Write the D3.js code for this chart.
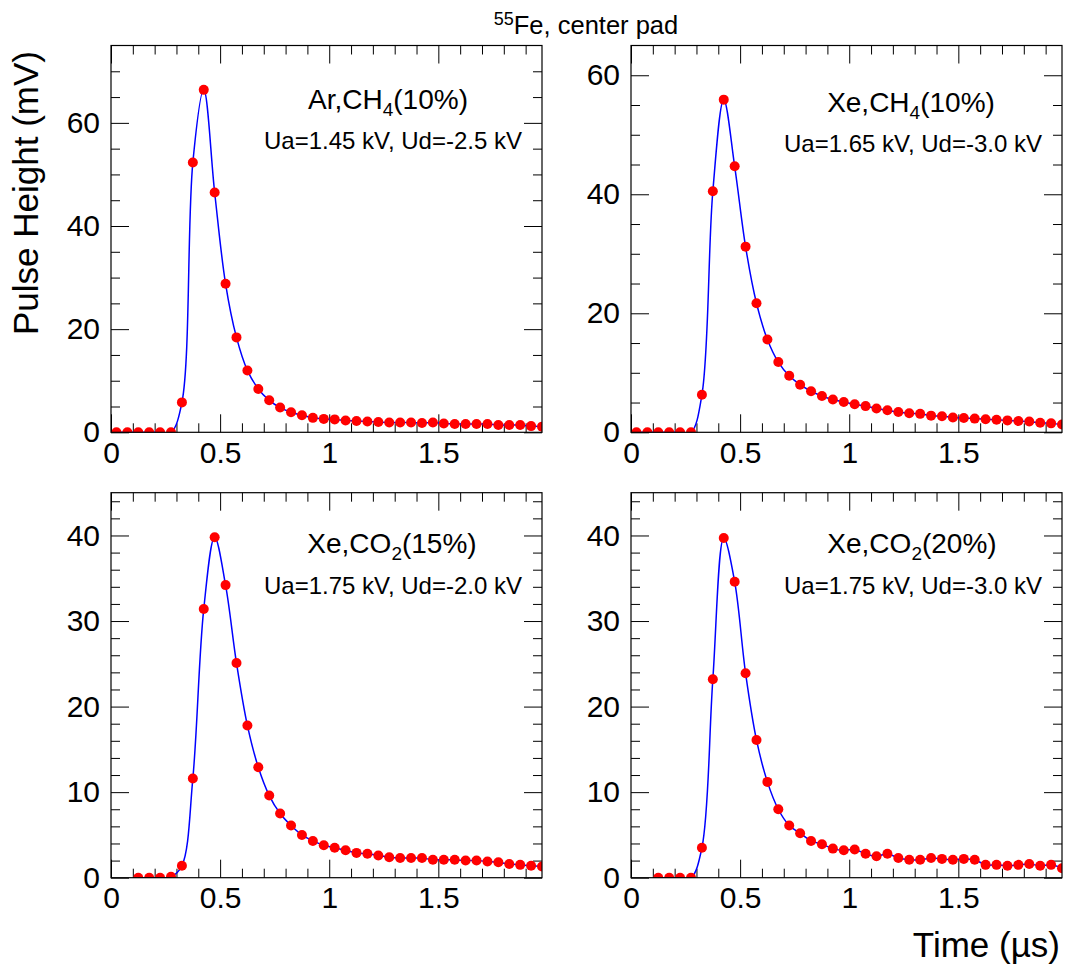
<!DOCTYPE html>
<html>
<head>
<meta charset="utf-8">
<script src="https://cdn.jsdelivr.net/npm/d3@7"></script>
<style>
  html, body { margin: 0; padding: 0; background: #fff; }
  svg { display: block; }
  text { font-family: "Liberation Sans", Arial, Helvetica, sans-serif; fill: #000; }
</style>
</head>
<body>
<svg id="chart" width="1066" height="966"></svg>
<script>
// ---------------- DATA ----------------
const times = [0.025, 0.075, 0.125, 0.175, 0.225, 0.275, 0.325, 0.375, 0.425, 0.475,
               0.525, 0.575, 0.625, 0.675, 0.725, 0.775, 0.825, 0.875, 0.925, 0.975,
               1.025, 1.075, 1.125, 1.175, 1.225, 1.275, 1.325, 1.375, 1.425, 1.475,
               1.525, 1.575, 1.625, 1.675, 1.725, 1.775, 1.825, 1.875, 1.925, 1.975];
// times for the two lower panels (start at 0.125)
const timesLower = times.slice(2);

const arCH4_10 = [0, 0, 0, 0, 0, 0, 5.8, 52.3, 66.4, 46.5, 28.8, 18.4, 12.0, 8.4, 6.2, 4.8,
                  3.9, 3.3, 2.8, 2.6, 2.5, 2.3, 2.2, 2.1, 2.0, 1.9, 1.9, 1.9, 1.8, 1.9, 1.7,
                  1.6, 1.6, 1.6, 1.6, 1.4, 1.4, 1.4, 1.2, 1.1];
const xeCH4_10 = [0, 0, 0, 0, 0, 0, 6.3, 40.5, 55.9, 44.7, 31.2, 21.7, 15.6, 11.8, 9.5, 8.0,
                  6.9, 6.1, 5.5, 5.1, 4.7, 4.4, 4.0, 3.7, 3.4, 3.2, 3.1, 2.8, 2.7, 2.5, 2.4,
                  2.3, 2.2, 2.1, 2.0, 1.9, 1.8, 1.6, 1.5, 1.3];
const xeCO2_15 = [0, 0, 0, 0.1, 1.4, 11.6, 31.4, 39.8, 34.2, 25.1, 17.8, 12.9, 9.6, 7.5, 6.1,
                  5.0, 4.3, 3.8, 3.5, 3.2, 2.9, 2.8, 2.6, 2.4, 2.3, 2.3, 2.3, 2.1, 2.1, 2.1,
                  2.0, 2.0, 1.9, 1.8, 1.6, 1.5, 1.4, 1.3];
const xeCO2_20 = [0, 0, 0, 0, 3.5, 23.2, 39.7, 34.6, 23.9, 16.1, 11.2, 8.0, 6.1, 5.2, 4.3,
                  3.9, 3.4, 3.2, 3.3, 2.8, 2.5, 2.8, 2.3, 2.1, 2.1, 2.3, 2.2, 2.1, 2.2, 2.1,
                  1.5, 1.5, 1.4, 1.5, 1.6, 1.4, 1.5, 1.1];

const xDomain = [0, 1.975];
const xMajorTicks = [0, 0.5, 1, 1.5];
const xMinorTicks = [0.1, 0.2, 0.3, 0.4, 0.6, 0.7, 0.8, 0.9, 1.1, 1.2, 1.3, 1.4, 1.6, 1.7, 1.8, 1.9];

const yMax = [75, 65, 45, 45];
const yMajorTicks = [[0, 20, 40, 60], [0, 20, 40, 60], [0, 10, 20, 30, 40], [0, 10, 20, 30, 40]];
const yMinorTicks = [
  [5, 10, 15, 25, 30, 35, 45, 50, 55, 65, 70],
  [5, 10, 15, 25, 30, 35, 45, 50, 55],
  [2, 4, 6, 8, 12, 14, 16, 18, 22, 24, 26, 28, 32, 34, 36, 38, 42, 44],
  [2, 4, 6, 8, 12, 14, 16, 18, 22, 24, 26, 28, 32, 34, 36, 38, 42, 44]
];

const gasLabels = [
  ["Ar,CH", "4", "(10%)"],
  ["Xe,CH", "4", "(10%)"],
  ["Xe,CO", "2", "(15%)"],
  ["Xe,CO", "2", "(20%)"]
];
const voltLabels = [
  "Ua=1.45 kV, Ud=-2.5 kV",
  "Ua=1.65 kV, Ud=-3.0 kV",
  "Ua=1.75 kV, Ud=-2.0 kV",
  "Ua=1.75 kV, Ud=-3.0 kV"
];
const seriesX = [times, times, timesLower, timesLower];
const seriesY = [arCH4_10, xeCH4_10, xeCO2_15, xeCO2_20];

// ---------------- LAYOUT ----------------
const frames = [
  {x0: 111, x1: 542, y0: 45.5, y1: 432.3, gx: 388, gy: 109, vx: 393, vy: 149},
  {x0: 631, x1: 1062, y0: 45.5, y1: 432.3, gx: 911, gy: 112, vx: 913, vy: 152},
  {x0: 111, x1: 542, y0: 492.7, y1: 877.7, gx: 392, gy: 553, vx: 393, vy: 594},
  {x0: 631, x1: 1062, y0: 492.7, y1: 877.7, gx: 912, gy: 553, vx: 913, vy: 594}
];

const svg = d3.select("#chart");
const MAJ = 18, MIN = 9;
const FONT = '"Liberation Sans", Arial, Helvetica, sans-serif';

frames.forEach((f, i) => {
  const x = d3.scaleLinear().domain(xDomain).range([f.x0, f.x1]);
  const y = d3.scaleLinear().domain([0, yMax[i]]).range([f.y1, f.y0]);

  const g = svg.append("g");

  const clipId = "clip" + i;
  svg.append("defs").append("clipPath").attr("id", clipId)
    .append("rect").attr("x", f.x0).attr("y", f.y0)
    .attr("width", f.x1 - f.x0).attr("height", f.y1 - f.y0);

  const styleAxis = sel => {
    sel.select(".domain").remove();
    sel.selectAll("line").attr("stroke", "#000").attr("stroke-width", 1);
  };
  // bottom
  g.append("g").attr("transform", `translate(0,${f.y1})`)
    .call(d3.axisBottom(x).tickValues(xMinorTicks).tickSize(-MIN).tickFormat(""))
    .call(styleAxis);
  g.append("g").attr("transform", `translate(0,${f.y1})`)
    .call(d3.axisBottom(x).tickValues(xMajorTicks).tickSize(-MAJ).tickPadding(9)
      .tickFormat(d => d3.format("")(d)))
    .call(styleAxis)
    .call(s => s.selectAll("text").attr("font-size", 30).attr("fill", "#000")
      .attr("font-family", FONT));
  // top
  g.append("g").attr("transform", `translate(0,${f.y0})`)
    .call(d3.axisTop(x).tickValues(xMinorTicks).tickSize(-MIN).tickFormat(""))
    .call(styleAxis);
  g.append("g").attr("transform", `translate(0,${f.y0})`)
    .call(d3.axisTop(x).tickValues(xMajorTicks).tickSize(-MAJ).tickFormat(""))
    .call(styleAxis);
  // left
  g.append("g").attr("transform", `translate(${f.x0},0)`)
    .call(d3.axisLeft(y).tickValues(yMinorTicks[i]).tickSize(-MIN).tickFormat(""))
    .call(styleAxis);
  g.append("g").attr("transform", `translate(${f.x0},0)`)
    .call(d3.axisLeft(y).tickValues(yMajorTicks[i]).tickSize(-MAJ).tickPadding(11)
      .tickFormat(d3.format("d")))
    .call(styleAxis)
    .call(s => s.selectAll("text").attr("font-size", 30).attr("fill", "#000")
      .attr("font-family", FONT));
  // right
  g.append("g").attr("transform", `translate(${f.x1},0)`)
    .call(d3.axisRight(y).tickValues(yMinorTicks[i]).tickSize(-MIN).tickFormat(""))
    .call(styleAxis);
  g.append("g").attr("transform", `translate(${f.x1},0)`)
    .call(d3.axisRight(y).tickValues(yMajorTicks[i]).tickSize(-MAJ).tickFormat(""))
    .call(styleAxis);

  // data
  const pts = seriesX[i].map((t, k) => [t, seriesY[i][k]]);
  const line = d3.line().x(d => x(d[0])).y(d => y(d[1])).curve(d3.curveCatmullRom.alpha(0.5));
  const plot = g.append("g").attr("clip-path", `url(#${clipId})`);
  plot.append("path").datum(pts).attr("d", line)
    .attr("fill", "none").attr("stroke", "#0000ff").attr("stroke-width", 1.5);
  plot.selectAll("circle").data(pts).join("circle")
    .attr("cx", d => x(d[0])).attr("cy", d => y(d[1])).attr("r", 5)
    .attr("fill", "#ff0000");

  // frame
  g.append("rect").attr("x", f.x0).attr("y", f.y0)
    .attr("width", f.x1 - f.x0).attr("height", f.y1 - f.y0)
    .attr("fill", "none").attr("stroke", "#000").attr("stroke-width", 1.2);

  // labels
  const gl = gasLabels[i];
  const t1 = g.append("text").attr("x", f.gx).attr("y", f.gy)
    .attr("text-anchor", "middle").attr("font-size", 28);
  t1.append("tspan").text(gl[0]);
  t1.append("tspan").attr("font-size", 19).attr("dy", 7).text(gl[1]);
  t1.append("tspan").attr("dy", -7).text(gl[2]);

  g.append("text").attr("x", f.vx).attr("y", f.vy)
    .attr("text-anchor", "middle").attr("font-size", 24).text(voltLabels[i]);
});

// main title
const title = svg.append("text").attr("x", 586).attr("y", 34)
  .attr("text-anchor", "middle").attr("font-size", 25.5);
title.append("tspan").attr("font-size", 18).attr("dy", -9).text("55");
title.append("tspan").attr("dy", 9).text("Fe, center pad");

// axis titles
svg.append("text")
  .attr("transform", "translate(38,193) rotate(-90)")
  .attr("text-anchor", "middle").attr("font-size", 35)
  .text("Pulse Height (mV)");
svg.append("text")
  .attr("x", 1060).attr("y", 957)
  .attr("text-anchor", "end").attr("font-size", 35)
  .text("Time (\u00b5s)");
</script>
</body>
</html>
